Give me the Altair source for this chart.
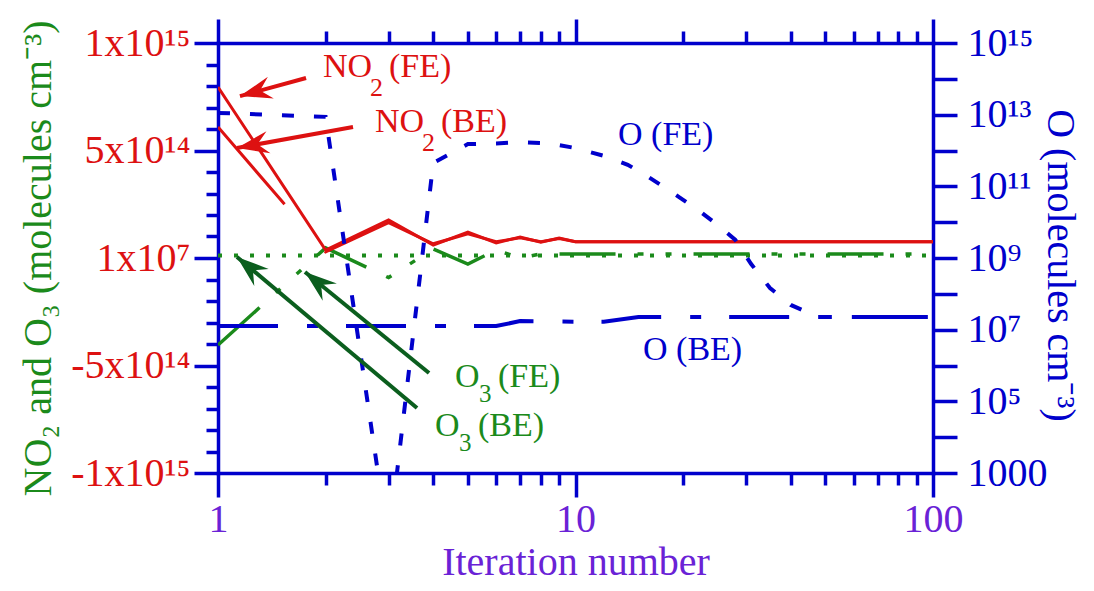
import math
import altair as alt
import pandas as pd

# ---------------- data ----------------
no2_x = [1, 2, 3, 4, 5, 6, 7, 8, 9, 10, 100]
no2_fe = [7.95e14, 3.7e13, 1.77e14, 6.0e13, 1.21e14, 7.0e13, 9.8e13, 7.4e13, 9.3e13, 7.6e13, 7.6e13]
no2_be = [6.09e14, 2.8e13, 1.64e14, 6.6e13, 1.12e14, 7.6e13, 9.4e13, 7.6e13, 9.1e13, 7.6e13, 7.6e13]

o3_fe_x = [1, 2, 3, 4, 5, 6, 7, 8, 100]
o3_fe = [-4.05e14, 4.7e13, -9.1e13, 4.2e13, -2.8e13, 3.7e13, 0.0, 1.9e13, 1.9e13]
o3_be_x = [1, 100]
o3_be = [1.2e13, 1.2e13]

o_fe_x = [1, 2, 3, 4, 5, 6, 7, 8, 9, 10, 12, 14, 16, 18, 20, 22, 25, 28, 31, 35, 40, 45, 48, 100]
o_fe = [1.12e13, 8.7e12, 10, 4.47e11, 1.51e12, 1.58e12, 1.70e12, 1.62e12, 1.41e12, 1.17e12,
        7.1e11, 4.0e11, 1.82e11, 8.5e10, 4.2e10, 2.2e10, 8.3e9, 3.2e9, 6.8e8, 1.45e8,
        4.9e7, 2.95e7, 2.24e7, 2.24e7]
o_be_x = [1, 5, 6, 7, 10, 12, 15, 100]
o_be = [1.26e7, 1.26e7, 1.26e7, 1.74e7, 1.66e7, 1.66e7, 2.24e7, 2.24e7]

x_ticks = [1, 2, 3, 4, 5, 6, 7, 8, 9, 10, 20, 30, 40, 50, 60, 70, 80, 90, 100]
left_ticks = [k * 1e14 for k in range(-10, 11)]
right_ticks = [10 ** k for k in range(3, 16)]

# annotation labels (anchor = left/baseline of first piece), in data units
lab_id = ["no2fe", "no2be", "ofe", "obe", "o3fe", "o3be"]
lab_x = [1.966, 2.749, 13.15, 15.45, 4.60, 4.046]
lab_v = [8.42e14, 5.86e14, 5.26e14, -4.74e14, -6.00e14, -8.30e14]
lab_main = ["NO", "NO", "O (FE)", "O (BE)", "O", "O"]
lab_sub = ["2", "2", "", "", "3", "3"]
lab_rest = ["(FE)", "(BE)", "", "", "(FE)", "(BE)"]

# arrows: tail -> tip, in data units
arr_x0 = [1.763, 2.386, 3.603, 3.893]
arr_v0 = [8.37e14, 6.09e14, -6.98e14, -5.35e14]
arr_x1 = [1.152, 1.130, 1.130, 1.751]
arr_v1 = [7.53e14, 5.12e14, 5e12, -6.5e13]

# ---------------- styles ----------------
W, H = 715, 430
FONT = "Liberation Serif"
RED = "#DD1111"
BLUE = "#0000CC"
GREEN = "#1B8A1B"
DKGREEN = "#0B5E1E"
PURPLE = "#6A22D6"

lab_color = [RED, RED, BLUE, BLUE, GREEN, GREEN]
arr_color = [RED, RED, DKGREEN, DKGREEN]

xscale = alt.Scale(type="log", domain=[1, 100])
lscale = alt.Scale(domain=[-1e15, 1e15])
rscale = alt.Scale(type="log", domain=[1e3, 1e15])

common = dict(domainColor=BLUE, domainWidth=3.5, domainCap="square", tickColor=BLUE,
              tickWidth=3.5, grid=False, labelFont=FONT, titleFont=FONT,
              titleFontWeight="normal", labelOverlap=False, labelFlush=False)

major_x = "datum.value == 1 || datum.value == 10 || datum.value == 100"

bottom_axis = alt.Axis(
    orient="bottom", values=x_ticks,
    tickSize={"condition": {"test": major_x, "value": 24}, "value": 12},
    labelExpr="datum.value == 1 ? '1' : datum.value == 10 ? '10' : datum.value == 100 ? '100' : ''",
    labelColor=PURPLE, labelFontSize=40, labelPadding=2,
    title="Iteration number", titleColor=PURPLE, titleFontSize=40,
    titleY=101, titleBaseline="alphabetic", **common)

top_axis = alt.Axis(
    orient="top", values=x_ticks,
    tickSize={"condition": {"test": major_x, "value": 24}, "value": 12},
    labels=False, title=None, **common)

left_axis = alt.Axis(
    orient="left", values=left_ticks,
    tickSize={"condition": {"test": "datum.value % 5e14 == 0", "value": 24}, "value": 12},
    labelExpr=("datum.value == 1e15 ? '1x10\u00b9\u2075' : datum.value == 5e14 ? '5x10\u00b9\u2074' : "
               "datum.value == 0 ? '1x10\u2077' : datum.value == -5e14 ? '-5x10\u00b9\u2074' : "
               "datum.value == -1e15 ? '-1x10\u00b9\u2075' : ''"),
    labelColor=RED, labelFontSize=40, labelPadding=4, labelBaseline="middle",
    title="NO\u2082 and O\u2083  (molecules cm\u207b\u00b3)", titleColor=GREEN, titleFontSize=40,
    titleX=-180, titleY=H / 2, titleAngle=270, titleBaseline="middle", titleAlign="center",
    **common)

right_axis = alt.Axis(
    orient="right", values=right_ticks, tickSize=24,
    labelExpr=("['','','','1000','','10\u2075','','10\u2077','','10\u2079','','10\u00b9\u00b9','',"
               "'10\u00b9\u00b3','','10\u00b9\u2075'][round(log(datum.value)/LN10)]"),
    labelColor=BLUE, labelFontSize=40, labelPadding=10, labelBaseline="middle",
    title="O (molecules cm\u207b\u00b3)", titleColor=BLUE, titleFontSize=40,
    titleX=126, titleY=222, titleAngle=90, titleBaseline="middle", titleAlign="center",
    **common)

# ---------------- data frames ----------------
df_no2_fe = pd.DataFrame({"x": no2_x, "v": no2_fe})
df_no2_be = pd.DataFrame({"x": no2_x, "v": no2_be})
df_o3_fe = pd.DataFrame({"x": o3_fe_x, "v": o3_fe})
df_o3_be = pd.DataFrame({"x": o3_be_x, "v": o3_be})
df_o_fe = pd.DataFrame({"x": o_fe_x, "v": o_fe})
df_o_be = pd.DataFrame({"x": o_be_x, "v": o_be})
df_lab = pd.DataFrame({"id": lab_id, "x": lab_x, "v": lab_v, "main": lab_main,
                       "sub": lab_sub, "rest": lab_rest, "c": lab_color})


def screen(x, v):
    return W * math.log10(x) / 2.0, H * (1e15 - v) / 2e15


angles = []
for a, b, c, d in zip(arr_x0, arr_v0, arr_x1, arr_v1):
    p0 = screen(a, b)
    p1 = screen(c, d)
    angles.append(math.degrees(math.atan2(p1[1] - p0[1], p1[0] - p0[0])) % 360)
df_arr = pd.DataFrame({"x0": arr_x0, "v0": arr_v0, "x1": arr_x1, "v1": arr_v1,
                       "c": arr_color, "ang": angles})

# ---------------- layers ----------------
XL = alt.X("x:Q", scale=xscale, axis=bottom_axis)
YL = alt.Y("v:Q", scale=lscale, axis=left_axis)
XR = alt.X("x:Q", scale=xscale, axis=top_axis)
YR = alt.Y("v:Q", scale=rscale, axis=right_axis)

o3_be_line = alt.Chart(df_o3_be).mark_line(color=GREEN, strokeWidth=4, strokeDash=[4, 12], clip=True).encode(x=XL, y=YL)
o3_fe_line = alt.Chart(df_o3_fe).mark_line(color=GREEN, strokeWidth=3.5, strokeDash=[56, 22, 6, 22, 6, 22], clip=True).encode(x=XL, y=YL)
no2_be_line = alt.Chart(df_no2_be).mark_line(color=RED, strokeWidth=3, strokeDash=[102, 62, 4000, 1], clip=True).encode(x=XL, y=YL)
no2_fe_line = alt.Chart(df_no2_fe).mark_line(color=RED, strokeWidth=3, clip=True).encode(x=XL, y=YL)

left_group = alt.layer(o3_be_line, o3_fe_line, no2_be_line, no2_fe_line)

o_be_line = alt.Chart(df_o_be).mark_line(color=BLUE, strokeWidth=4, strokeDash=[60, 29, 11, 28], clip=True).encode(x=XR, y=YR)
o_fe_line = alt.Chart(df_o_fe).mark_line(color=BLUE, strokeWidth=4, strokeDash=[12, 20], clip=True).encode(x=XR, y=YR)

right_group = alt.layer(o_be_line, o_fe_line)

XA = alt.X("x0:Q", scale=xscale, axis=None)
YA = alt.Y("v0:Q", scale=lscale, axis=None)
shafts = alt.Chart(df_arr).mark_rule(strokeWidth=4).encode(
    x=XA, y=YA, x2="x1:Q", y2="v1:Q", color=alt.Color("c:N", scale=None))
HEAD = "M0,0 L-2,-0.7 L-1.3,0 L-2,0.7 Z"
heads = alt.Chart(df_arr).mark_point(shape=HEAD, filled=True, size=1024, opacity=1, strokeWidth=0).encode(
    x=alt.X("x1:Q", scale=xscale, axis=None), y=alt.Y("v1:Q", scale=lscale, axis=None),
    angle=alt.Angle("ang:Q", scale=None), color=alt.Color("c:N", scale=None))

XT = alt.X("x:Q", scale=xscale, axis=None)
YT = alt.Y("v:Q", scale=lscale, axis=None)
txt = dict(font=FONT, align="left", baseline="alphabetic")
t_main = alt.Chart(df_lab).mark_text(fontSize=34, **txt).encode(
    x=XT, y=YT, text="main:N", color=alt.Color("c:N", scale=None))
df_no2 = df_lab[df_lab["id"].str.startswith("no2")]
df_o3 = df_lab[df_lab["id"].str.startswith("o3")]
t_no2_sub = alt.Chart(df_no2).mark_text(fontSize=26, dx=47, dy=19, **txt).encode(
    x=XT, y=YT, text="sub:N", color=alt.Color("c:N", scale=None))
t_no2_rest = alt.Chart(df_no2).mark_text(fontSize=34, dx=66, **txt).encode(
    x=XT, y=YT, text="rest:N", color=alt.Color("c:N", scale=None))
t_o3_sub = alt.Chart(df_o3).mark_text(fontSize=25, dx=24, dy=15, **txt).encode(
    x=XT, y=YT, text="sub:N", color=alt.Color("c:N", scale=None))
t_o3_rest = alt.Chart(df_o3).mark_text(fontSize=34, dx=43, **txt).encode(
    x=XT, y=YT, text="rest:N", color=alt.Color("c:N", scale=None))

ann_group = alt.layer(shafts, heads, t_main, t_no2_sub, t_no2_rest, t_o3_sub, t_o3_rest)

chart = (
    alt.layer(left_group, right_group, ann_group)
    .resolve_scale(y="independent")
    .resolve_axis(x="independent", y="independent")
    .properties(width=W, height=H, autosize=alt.AutoSizeParams(type="none"),
                padding={"left": 210, "top": 35, "right": 153, "bottom": 110},
                background="white")
    .configure(font=FONT)
    .configure_axis(labelFont=FONT, titleFont=FONT, titleFontWeight="normal")
    .configure_view(stroke=None)
)

chart.save("out.html", embed_options={"renderer": "svg", "actions": False})
